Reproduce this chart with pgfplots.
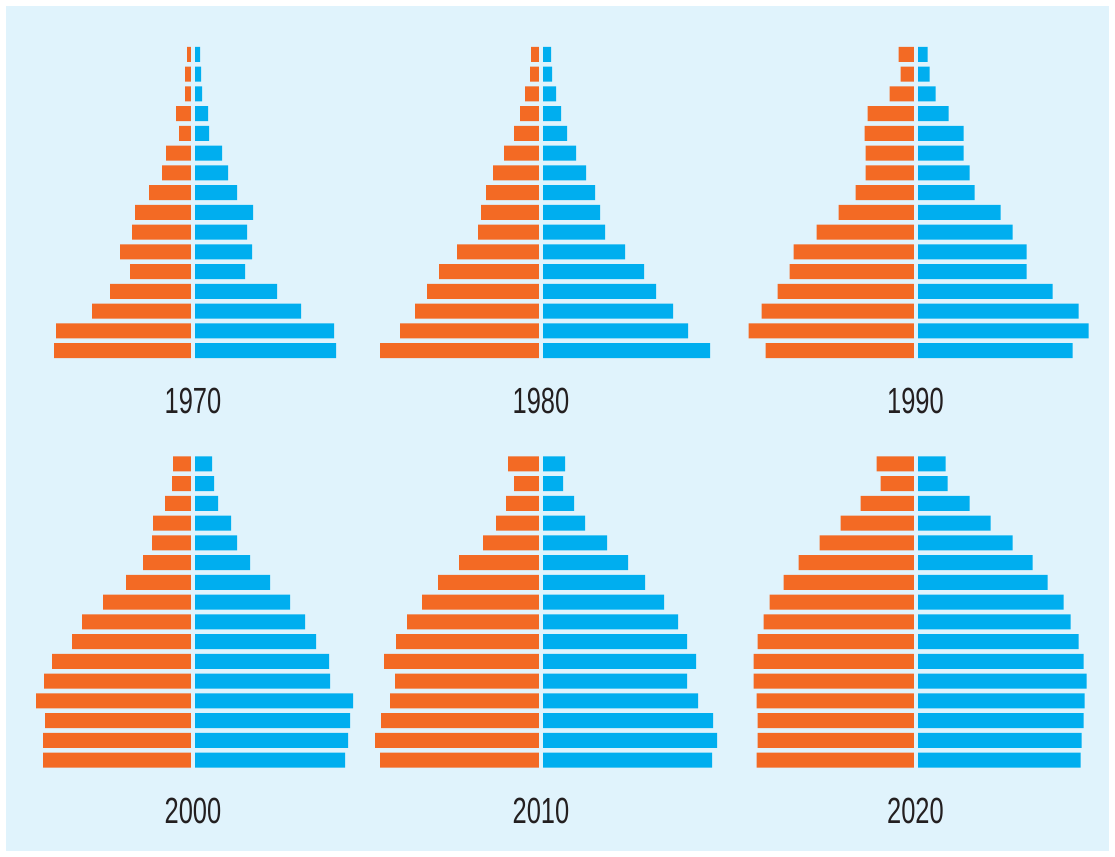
\documentclass[border=0pt]{standalone}
\usepackage{fontspec}
\setmainfont{Liberation Sans}
\usepackage{graphicx}
\usepackage{pgfplots}
\usepackage{pgfplotstable}
\pgfplotsset{compat=1.18}

\definecolor{bgblue}{HTML}{E0F3FC}
\definecolor{fem}{HTML}{F36A24}
\definecolor{mal}{HTML}{00AEEF}
\definecolor{txt}{HTML}{231F20}

% age group 16 = oldest (top), 1 = youngest (bottom); f = left bars, m = right bars
\pgfplotstableread{
age f m
16 6 7
15 8 8
14 8 9
13 17 15
12 14 16
11 27 29
10 31 35
9 44 44
8 58 60
7 61 54
6 73 59
5 63 52
4 83 84
3 101 108
2 137 141
1 139 143
}\yrA
\pgfplotstableread{
age f m
16 10 10
15 11 11
14 16 15
13 21 20
12 27 26
11 37 35
10 48 45
9 55 54
8 60 59
7 63 64
6 84 84
5 102 103
4 114 115
3 126 132
2 141 147
1 161 169
}\yrB
\pgfplotstableread{
age f m
16 17 12
15 15 14
14 26 20
13 48 33
12 51 48
11 50 48
10 50 54
9 60 59
8 77 85
7 99 97
6 122 111
5 126 111
4 138 137
3 154 163
2 167 173
1 150 157
}\yrC
\pgfplotstableread{
age f m
16 20 19
15 21 21
14 28 25
13 40 38
12 41 44
11 50 57
10 67 77
9 90 97
8 111 112
7 121 123
6 141 136
5 149 137
4 157 160
3 148 157
2 150 155
1 150 152
}\yrD
\pgfplotstableread{
age f m
16 33 24
15 27 22
14 35 33
13 45 44
12 58 66
11 82 87
10 103 104
9 119 123
8 134 137
7 145 146
6 157 155
5 146 146
4 151 157
3 160 172
2 166 176
1 161 171
}\yrE
\pgfplotstableread{
age f m
16 39 30
15 35 32
14 55 54
13 75 75
12 96 97
11 117 117
10 132 132
9 146 148
8 152 155
7 158 163
6 162 168
5 162 171
4 159 169
3 158 168
2 158 166
1 159 165
}\yrF

% #1 centre x (px), #2 centre y (px), #3 table, #4 year, #5 label baseline (px)
\newcommand{\pyramid}[5]{%
  \begin{axis}[
    at={(#1*0.5pt,-#2*0.5pt)}, anchor=center,
    x=0.5pt, y=9.88pt,
    xmin=-185, xmax=185, ymin=0.5, ymax=16.5,
    hide axis, clip=false,
  ]
    \addplot[xbar, bar shift=0pt, bar width=7.5pt, fill=fem, draw=none]
      table[x expr=-\thisrow{f}, y=age] {#3};
    \addplot[xbar, bar shift=0pt, bar width=7.5pt, fill=mal, draw=none]
      table[x=m, y=age] {#3};
    \draw[bgblue, line width=2pt] (axis cs:0,0.5) -- (axis cs:0,16.5);
  \end{axis}
  \node[anchor=base, text=txt, inner sep=0pt,
        font=\fontsize{18.2pt}{20pt}\selectfont]
    at (#1*0.5pt,-#5*0.5pt) {\scalebox{0.7}[1]{#4}};
}

\begin{document}
\begin{tikzpicture}
  \fill[white] (0,0) rectangle (557.5pt,-428.5pt);
  \fill[bgblue] (3pt,-3pt) rectangle (554.5pt,-425.5pt);
  \pyramid{193}{202.5}{\yrA}{1970}{413}
  \pyramid{541}{202.5}{\yrB}{1980}{413}
  \pyramid{915.5}{202.5}{\yrC}{1990}{413}
  \pyramid{193}{612}{\yrD}{2000}{823}
  \pyramid{541}{612}{\yrE}{2010}{823}
  \pyramid{915.5}{612}{\yrF}{2020}{823}
\end{tikzpicture}
\end{document}
